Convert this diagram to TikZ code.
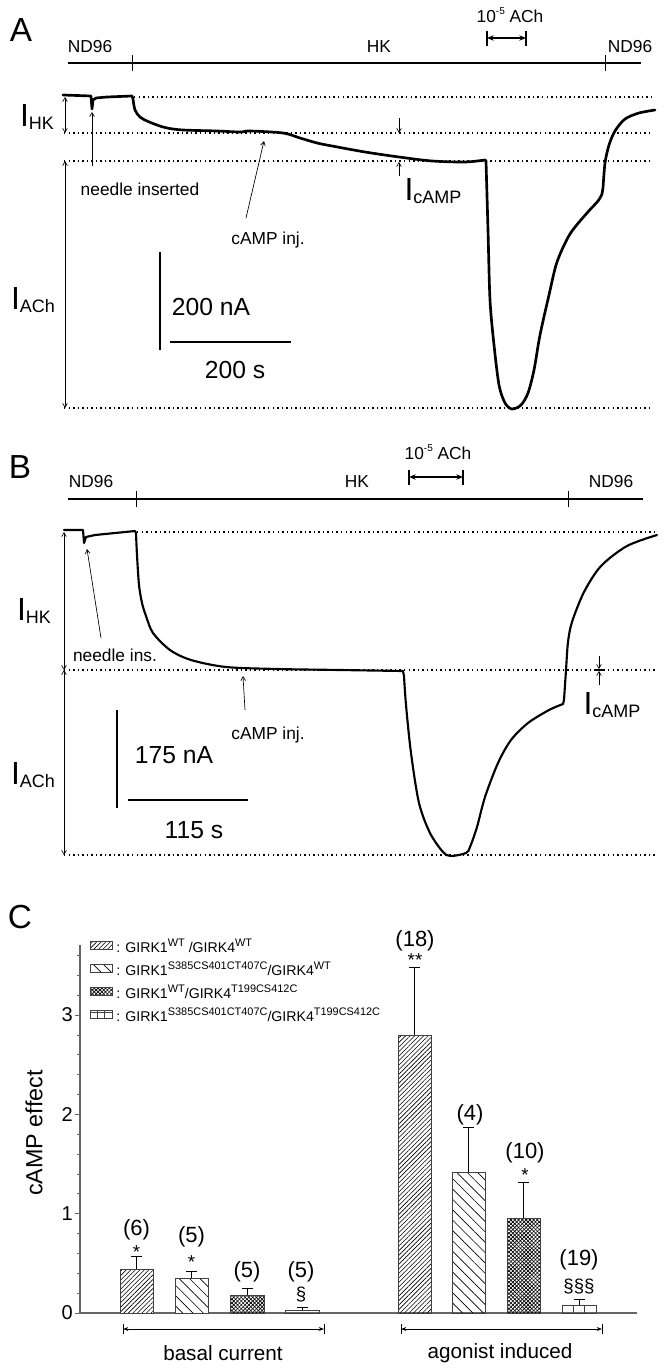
\documentclass[tikz,border=0pt]{standalone}
\usepackage{fontspec}
\setmainfont{Liberation Sans}
\usetikzlibrary{arrows.meta,patterns.meta}
\newcommand\fs[1]{\fontsize{#1}{#1}\selectfont}
\newcommand\supx[1]{\raisebox{0.85ex}{\fontsize{7.5}{8}\selectfont #1}}
\newcommand\supl[1]{\raisebox{0.85ex}{\fontsize{8.2}{9}\selectfont #1}}
\newcommand\Ilab[1]{{\fs{24}I}\raisebox{-2.5pt}{\fs{13.5}#1}}
\begin{document}
\begin{tikzpicture}[x=0.75pt,y=-0.75pt,
  lbl/.style={inner sep=0pt, font=\fs{13}},
  panel/.style={inner sep=0pt, font=\fs{25}},
  big/.style={inner sep=0pt, font=\fs{18.5}},
  ilab/.style={inner sep=0pt},
  cnt/.style={inner sep=0pt, font=\fs{16.5}},
  star/.style={inner sep=0pt, font=\fs{14}},
  legt/.style={anchor=west, inner sep=0pt, font=\fs{10.6}},
  trace/.style={line width=1.6pt, line join=round, line cap=round},
  dotline/.style={line width=1.1pt, dash pattern=on 1.1pt off 2.3pt},
  solbar/.style={line width=1.2pt},
  tickln/.style={line width=0.5pt},
  scalebar/.style={line width=0.9pt},
  dimarrow/.style={line width=0.5pt, {Straight Barb[length=3pt,width=3.5pt]}-{Straight Barb[length=3pt,width=3.5pt]}},
  ann/.style={line width=0.5pt, -{Straight Barb[length=3pt,width=3.5pt]}},
  achar/.style={line width=0.9pt, {Stealth[length=5pt,width=4pt]}-{Stealth[length=5pt,width=4pt]}},
  endbar/.style={line width=1.1pt},
  axis/.style={line width=0.8pt, draw=black!60},
  barbox/.style={line width=0.7pt, draw=black!75},
  errbar/.style={line width=0.7pt},
  bracket/.style={line width=0.7pt, {Stealth[length=4pt,width=3pt]}-{Stealth[length=4pt,width=3pt]}},
  pNE/.style={pattern={Lines[angle=45,distance=2.4pt,line width=0.45pt]}},
  pNW/.style={pattern={Lines[angle=-45,distance=5.5pt,line width=0.5pt]}},
  pXa/.style={pattern={Lines[angle=45,distance=2pt,line width=0.5pt]}},
  pXb/.style={pattern={Lines[angle=-45,distance=2pt,line width=0.5pt]}},
]
\fill[white] (0,0) rectangle (664,1369);
\useasboundingbox (0,0) rectangle (664,1369);

% ================= Panel A =================
\node[panel] (labA) at (21,30) {A};
\node[lbl] (ndA1) at (90,47) {ND96};
\node[lbl] (hkA) at (379,47) {HK};
\node[lbl] (ndA2) at (630,47) {ND96};
\node[lbl] (achA) at (510,15) {10\supx{-5} ACh};
\coordinate (barAl) at (68,63); \coordinate (barAr) at (641,63);
\draw[solbar] (barAl) -- (barAr);
\draw[tickln] (132,55) -- (132,71);
\draw[tickln] (605,55) -- (605,71);
\coordinate (achAl) at (487,38); \coordinate (achAr) at (526,38);
\draw[achar] (achAl) -- (achAr);
\draw[endbar] (487,31) -- (487,46);
\draw[endbar] (526,31) -- (526,46);

% dotted reference lines
\draw[dotline] (134,97) -- (651,97);
\draw[dotline] (64,133) -- (651,133);
\draw[dotline] (64,161) -- (651,161);
\draw[dotline] (64,408) -- (651,408);

% trace A
\draw[trace,line width=2pt] (63,95) -- (91,96) -- (92,109) -- (93,100) -- (96,98) -- (107,97) -- (132,96)
 -- plot[smooth,tension=0.5] coordinates {(133,99) (135,110) (140,117) (147,121) (157,125) (167,128) (183,130) (217,131) (240,132) (250,131) (283,133) (300,138) (317,143) (332,146) (365,152) (399,157) (432,161) (465,162) (485,160)}
 -- plot[smooth,tension=0.5] coordinates {(486,161) (488,230) (490,300) (494,345) (499,385) (505,403) (512,409) (521,405) (528,393) (534,370) (540,335) (549,295) (557,262) (570,234) (587,213) (598,201) (602,194)}
 -- plot[smooth,tension=0.5] coordinates {(603,188) (605,163) (609,145) (615,131) (625,119) (639,113) (655,110)};

% I_HK, I_ACh
\coordinate (ihkAt) at (65,97); \coordinate (ihkAb) at (65,133);
\draw[dimarrow] (ihkAt) -- (ihkAb);
\coordinate (iachAt) at (65,161); \coordinate (iachAb) at (65,408);
\draw[dimarrow] (iachAt) -- (iachAb);
\node[ilab] (lhkA) at (37,117) {\Ilab{HK}};
\node[ilab] (lachA) at (33,300) {\Ilab{ACh}};

% needle inserted
\node[lbl] (needA) at (140,189) {needle inserted};
\coordinate (needAs) at (92,166); \coordinate (needAe) at (92,112);
\draw[ann] (needAs) -- (needAe);
% cAMP inj
\node[lbl] (campA) at (268,240) {cAMP inj.};
\coordinate (campAs) at (246,218); \coordinate (campAe) at (264,141);
\draw[ann] (campAs) -- (campAe);
% I_cAMP
\coordinate (icAt) at (399,118); \coordinate (icAtb) at (399,133);
\draw[ann] (icAt) -- (icAtb);
\coordinate (icAb) at (399,176); \coordinate (icAbt) at (399,162);
\draw[ann] (icAb) -- (icAbt);
\node[ilab] (lcampA) at (433,191) {\Ilab{cAMP}};

% scale bars A
\coordinate (sAv1) at (160,252); \coordinate (sAv2) at (160,350);
\draw[scalebar] (sAv1) -- (sAv2);
\coordinate (sAh1) at (170,342); \coordinate (sAh2) at (291,342);
\draw[scalebar] (sAh1) -- (sAh2);
\node[big] (nAA) at (211,307) {200 nA};
\node[big] (sA) at (235,370) {200 s};

% ================= Panel B =================
\node[panel] (labB) at (20,467) {B};
\node[lbl] (ndB1) at (91,482) {ND96};
\node[lbl] (hkB) at (357,482) {HK};
\node[lbl] (ndB2) at (611,482) {ND96};
\node[lbl] (achB) at (438,452) {10\supx{-5} ACh};
\coordinate (barBl) at (68,499); \coordinate (barBr) at (643,499);
\draw[solbar] (barBl) -- (barBr);
\draw[tickln] (136,491) -- (136,507);
\draw[tickln] (568,491) -- (568,507);
\coordinate (achBl) at (409,477); \coordinate (achBr) at (463,477);
\draw[achar] (achBl) -- (achBr);
\draw[endbar] (409,470) -- (409,485);
\draw[endbar] (463,470) -- (463,485);

\draw[dotline] (137,532) -- (657,532);
\draw[dotline] (64,670) -- (657,670);
\draw[dotline] (64,855) -- (657,855);

% trace B
\draw[trace] (64,530) -- (83,530) -- (84,543) -- (86,537) -- (95,535) -- (135,531)
 -- plot[smooth,tension=0.5] coordinates {(136,533) (137,555) (139,585) (142,603) (146,616) (153,633) (170,650) (191,660) (226,667) (277,669) (340,670) (403,671)}
 -- plot[smooth,tension=0.5] coordinates {(404,676) (406,705) (411,753) (419,803) (430,833) (443,852) (451,856) (466,853) (470,847) (477,827) (485,797) (498,763) (511,740) (528,723) (549,710) (563,704)}
 -- plot[smooth,tension=0.5] coordinates {(564,700) (566,670) (568,642) (572,622) (584,592) (601,566) (627,546) (657,535)};

\coordinate (ihkBt) at (64,532); \coordinate (ihkBb) at (64,670);
\draw[dimarrow] (ihkBt) -- (ihkBb);
\coordinate (iachBt) at (64,670); \coordinate (iachBb) at (64,855);
\draw[dimarrow] (iachBt) -- (iachBb);
\node[ilab] (lhkB) at (34,611) {\Ilab{HK}};
\node[ilab] (lachB) at (33,775) {\Ilab{ACh}};

\node[lbl] (needB) at (115,655) {needle ins.};
\coordinate (needBs) at (101,638); \coordinate (needBe) at (87,549);
\draw[ann] (needBs) -- (needBe);
\node[lbl] (campB) at (268,735) {cAMP inj.};
\coordinate (campBs) at (245,710); \coordinate (campBe) at (243,676);
\draw[ann] (campBs) -- (campBe);
\coordinate (icBt) at (599,656); \coordinate (icBtb) at (599,669);
\draw[ann] (icBt) -- (icBtb);
\coordinate (icBb) at (599,685); \coordinate (icBbt) at (599,671);
\draw[ann] (icBb) -- (icBbt);
\draw[line width=1.2pt] (594,670) -- (604,670);
\node[ilab] (lcampB) at (612,705) {\Ilab{cAMP}};

\coordinate (sBv1) at (117,710); \coordinate (sBv2) at (117,808);
\draw[scalebar] (sBv1) -- (sBv2);
\coordinate (sBh1) at (128,800); \coordinate (sBh2) at (248,800);
\draw[scalebar] (sBh1) -- (sBh2);
\node[big] (nAB) at (174,755) {175 nA};
\node[big] (sB) at (194,830) {115 s};

% ================= Panel C =================
\node[panel] (labC) at (20,917) {C};
\coordinate (axTop) at (80,945); \coordinate (axO) at (80,1313); \coordinate (axR) at (637,1313);
\draw[axis] (axTop) -- (axO) -- (axR);
\foreach \v in {0.2,0.4,...,3.61} \draw[axis,line width=0.6pt] (77,{1313-99.3*\v}) -- (80,{1313-99.3*\v});
\foreach \v in {0,1,2,3} {
  \draw[axis,line width=0.6pt] (75,{1313-99.3*\v}) -- (80,{1313-99.3*\v});
  \node[anchor=east, inner sep=0pt, font=\fs{15}] (tk\v) at (73,{1313-99.3*\v}) {\v};
}
\node[inner sep=0pt, font=\fs{17.5}, rotate=90] (ylab) at (34,1133) {cAMP effect};

% bars
\fill[white] (120,1269) rectangle (153,1313);
\path[pNE] (120,1269) rectangle (153,1313);
\draw[barbox] (120,1313) rectangle (153,1269);
\fill[white] (175,1278) rectangle (208,1313);
\path[pNW] (175,1278) rectangle (208,1313);
\draw[barbox] (175,1313) rectangle (208,1278);
\path[pXa] (230,1295) rectangle (264,1313);
\path[pXb] (230,1295) rectangle (264,1313);
\draw[barbox] (230,1313) rectangle (264,1295);
\draw[barbox] (285,1313) rectangle (319,1310);
\path[pNE] (398,1035) rectangle (431,1313);
\draw[barbox] (398,1313) rectangle (431,1035);
\path[pNW] (452,1172) rectangle (485,1313);
\draw[barbox] (452,1313) rectangle (485,1172);
\path[pXa] (507,1218) rectangle (540,1313);
\path[pXb] (507,1218) rectangle (540,1313);
\draw[barbox] (507,1313) rectangle (540,1218);
\draw[barbox] (562,1313) rectangle (596,1305);
\draw[barbox] (573.3,1305) -- (573.3,1313);
\draw[barbox] (584.7,1305) -- (584.7,1313);

% error bars
\foreach \cx/\t/\e in {136.5/1269/1256, 191.5/1278/1271, 247/1295/1288, 302/1310/1307, 414.5/1035/967, 468.5/1172/1127, 523.5/1218/1182, 579/1305/1299} {
  \draw[errbar] (\cx,\t) -- (\cx,\e);
  \draw[errbar] (\cx-5.5,\e) -- (\cx+5.5,\e);
}

% counts and significance
\node[cnt] (n1) at (136.5,1230) {(6)};
\node[star] (s1) at (136.5,1252) {*};
\node[cnt] (n2) at (191.5,1237) {(5)};
\node[star] (s2) at (191.5,1262) {*};
\node[cnt] (n3) at (247,1272) {(5)};
\node[cnt] (n4) at (301,1272) {(5)};
\node[star] (s4) at (301,1295) {\S};
\node[cnt] (n5) at (415,941) {(18)};
\node[star] (s5) at (415,960) {**};
\node[cnt] (n6) at (470,1115) {(4)};
\node[cnt] (n7) at (525,1153) {(10)};
\node[star] (s7) at (525,1175) {*};
\node[cnt] (n8) at (579,1260) {(19)};
\node[star] (s8) at (579,1287) {\S\S\S};

% group brackets
\coordinate (gb1) at (123,1329); \coordinate (gb2) at (324,1329);
\draw[bracket] (gb1) -- (gb2);
\draw[errbar] (123,1324) -- (123,1334);
\draw[errbar] (324,1324) -- (324,1334);
\coordinate (ga1) at (401,1329); \coordinate (ga2) at (602,1329);
\draw[bracket] (ga1) -- (ga2);
\draw[errbar] (401,1324) -- (401,1334);
\draw[errbar] (602,1324) -- (602,1334);
\node[inner sep=0pt, font=\fs{15.5}] (basal) at (223,1353) {basal current};
\node[inner sep=0pt, font=\fs{15.5}] (agon) at (500,1353) {agonist induced};

% legend
\path[pNE] (90,941) rectangle (112,949);
\draw[barbox,line width=0.5pt] (90,941) rectangle (112,949);
\path[pNW] (90,964) rectangle (112,972);
\draw[barbox,line width=0.5pt] (90,964) rectangle (112,972);
\path[pXa] (90,987) rectangle (112,995);
\path[pXb] (90,987) rectangle (112,995);
\draw[barbox,line width=0.5pt] (90,987) rectangle (112,995);
\draw[barbox,line width=0.5pt] (90,1010) rectangle (112,1018);
\draw[barbox,line width=0.5pt] (90,1012.5) -- (112,1012.5);
\draw[barbox,line width=0.5pt] (97.3,1010) -- (97.3,1018);
\draw[barbox,line width=0.5pt] (104.7,1010) -- (104.7,1018);
\node[legt] (lg1) at (116,946) {: GIRK1\supl{WT} /GIRK4\supl{WT}};
\node[legt] (lg2) at (116,969) {: GIRK1\supl{S385CS401CT407C}/GIRK4\supl{WT}};
\node[legt] (lg3) at (116,992) {: GIRK1\supl{WT}/GIRK4\supl{T199CS412C}};
\node[legt] (lg4) at (116,1015) {: GIRK1\supl{S385CS401CT407C}/GIRK4\supl{T199CS412C}};
\end{tikzpicture}
\end{document}
